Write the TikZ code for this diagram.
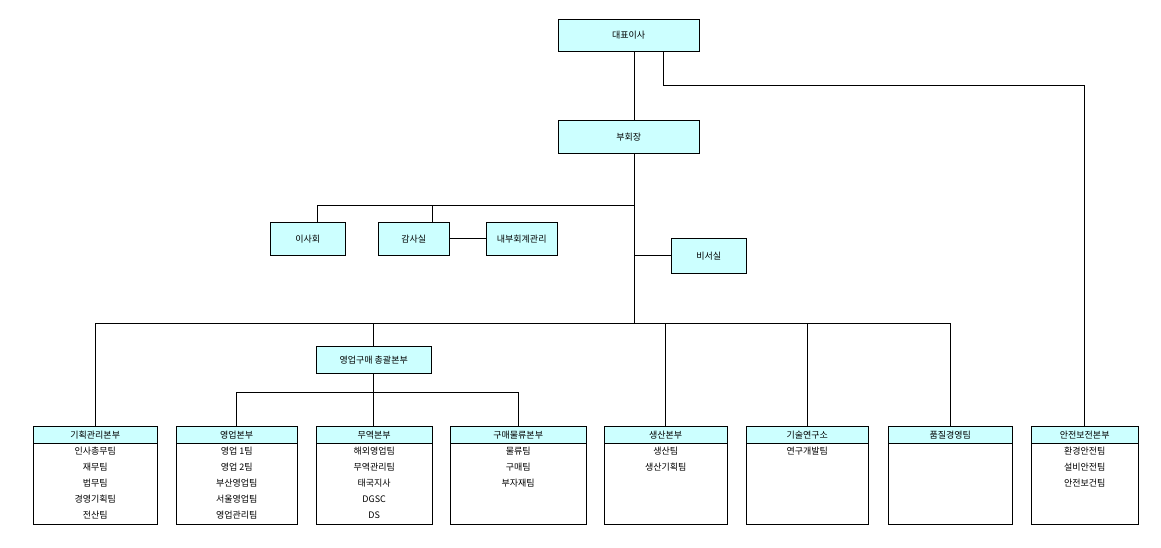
\documentclass[tikz,border=0pt]{standalone}
\usepackage{fontspec}
\newfontfamily\kr{Noto Sans CJK KR}
\usetikzlibrary{calc}
\definecolor{hdr}{HTML}{CCFFFF}
\begin{document}
\begin{tikzpicture}[x=1pt,y=-1pt,
  box/.style={draw,fill=hdr,font=\kr\fontsize{9}{10}\selectfont,inner sep=0},
  line/.style={draw,line width=0.6pt}]
\useasboundingbox (0,0) rectangle (1161,548);
\newcommand\bx[6]{\node[box,minimum width=#4-#2,minimum height=#5-#3,anchor=north west] (#1) at (#2,#3) {#6};}
\bx{ceo}{558}{19}{699}{51}{대표이사}
\bx{vc}{558}{120}{699}{153}{부회장}
\bx{board}{270}{222}{345}{255}{이사회}
\bx{audit}{378}{222}{449}{255}{감사실}
\bx{ia}{486}{222}{557}{255}{내부회계관리}
\bx{sec}{671}{238}{746}{273}{비서실}
\bx{sp}{316}{346}{431}{373}{영업구매 총괄본부}
\newcommand\dept[5]{%
  \node[draw,fill=white,minimum width=#3-#2,minimum height=98,anchor=north west,inner sep=0] (#1) at (#2,426) {};
  \node[box,minimum width=#3-#2,minimum height=17,anchor=north west] (#1h) at (#2,426) {#4};
  \node[font=\kr\fontsize{9}{16}\selectfont,align=center,anchor=north,inner sep=0] (#1t) at ($(#1h.south)+(0,3)$) {#5};}
\dept{d1}{33}{157}{기획관리본부}{인사총무팀\\재무팀\\법무팀\\경영기획팀\\전산팀}
\dept{d2}{176}{297}{영업본부}{영업 1팀\\영업 2팀\\부산영업팀\\서울영업팀\\영업관리팀}
\dept{d3}{316}{432}{무역본부}{해외영업팀\\무역관리팀\\태국지사\\DGSC\\DS}
\dept{d4}{450}{586}{구매물류본부}{물류팀\\구매팀\\부자재팀}
\dept{d5}{604}{727}{생산본부}{생산팀\\생산기획팀}
\dept{d6}{746}{868}{기술연구소}{연구개발팀}
\dept{d7}{888}{1012}{품질경영팀}{}
\dept{d8}{1031}{1138}{안전보전본부}{환경안전팀\\설비안전팀\\안전보건팀}
\coordinate (j1) at (634,205);
\coordinate (j2) at (634,323);
\coordinate (j3) at (375,392);
\coordinate (jb) at (317,205);
\coordinate (ja) at (432,205);
\draw[line] (ceo.south-|j1) -- (vc.north-|j1);
\draw[line] (ceo.south-|663,0) -- (663,85) -| (d8h.north);
\draw[line] (vc.south-|j1) -- (j2);
\draw[line] (j1) -- (jb) -- (board.north-|jb);
\draw[line] (ja) -- (audit.north-|ja);
\draw[line] (audit.east) -- (ia.west);
\draw[line] (sec.west-|j1) -- (sec.west);
\draw[line] (d1h.north) |- (d7h.north|-j2) -- (d7h.north);
\draw[line] (sp.north|-j2) -- (sp.north);
\draw[line] (d5h.north|-j2) -- (d5h.north);
\draw[line] (d6h.north|-j2) -- (d6h.north);
\draw[line] (sp.south) -- (sp.south|-d3h.north);
\draw[line] (d2h.north) |- (d4h.north|-j3) -- (d4h.north);
\end{tikzpicture}
\end{document}
